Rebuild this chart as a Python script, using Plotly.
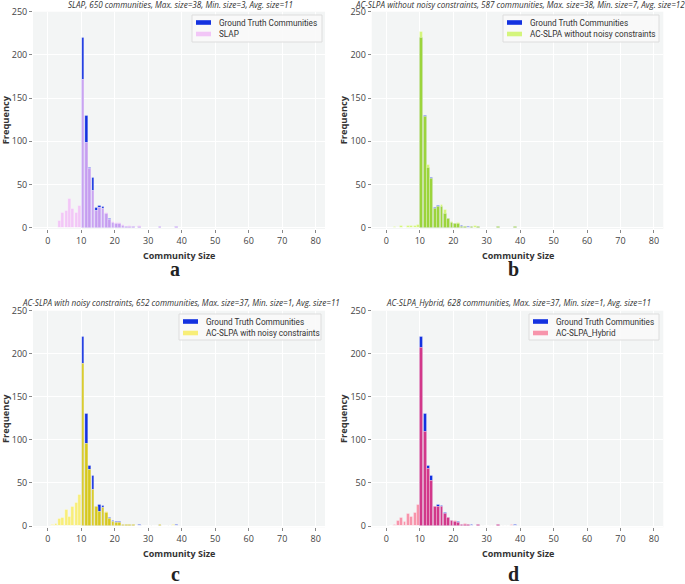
import plotly.graph_objects as go

# community sizes (bins 1..38)
sizes = list(range(1, 39))

def series(d):
    return [d.get(s, 0) for s in sizes]

ground_truth = series({10: 220, 11: 130, 12: 70, 13: 58, 14: 23, 15: 25, 16: 24, 17: 16, 18: 10,
                       19: 6, 20: 5, 21: 5, 22: 2, 23: 1, 24: 1, 25: 1, 27: 1, 33: 1, 38: 1})
slap = series({3: 8, 4: 17, 5: 20, 6: 33, 7: 22, 8: 17, 9: 25, 10: 171, 11: 98, 12: 68, 13: 43,
               14: 20, 15: 23, 16: 22, 17: 17, 18: 9, 19: 7, 20: 6, 21: 6, 22: 3, 23: 1, 24: 2,
               25: 1, 27: 2, 33: 1, 38: 1})
ac_no_noise = series({2: 1, 4: 2, 6: 2, 7: 2, 8: 2, 9: 4, 10: 227, 11: 128, 12: 73, 13: 57, 14: 22,
                      15: 24, 16: 27, 17: 21, 18: 11, 19: 7, 20: 5, 21: 6, 22: 1, 23: 1, 25: 1,
                      26: 2, 27: 1, 33: 1, 38: 1})
ac_noisy = series({1: 1, 2: 3, 3: 8, 4: 10, 5: 19, 6: 11, 7: 23, 8: 27, 9: 36, 10: 188, 11: 96,
                   12: 65, 13: 42, 14: 23, 15: 17, 16: 21, 17: 17, 18: 8, 19: 5, 20: 4, 21: 4,
                   22: 2, 23: 2, 24: 2, 25: 2, 33: 1, 37: 1})
ac_hybrid = series({2: 1, 3: 6, 4: 10, 5: 5, 6: 14, 7: 11, 8: 15, 9: 25, 10: 207, 11: 109, 12: 66,
                    13: 53, 14: 23, 15: 22, 16: 22, 17: 14, 18: 10, 19: 6, 20: 6, 21: 4, 22: 1,
                    23: 3, 24: 2, 27: 2, 33: 1, 37: 1})

panel_names = ["SLAP", "AC-SLPA without noisy constraints", "AC-SLPA with noisy constraints", "AC-SLPA_Hybrid"]
panel_values = [slap, ac_no_noise, ac_noisy, ac_hybrid]
panel_titles = [
    "SLAP, 650 communities, Max. size=38, Min. size=3, Avg. size=11",
    "AC-SLPA without noisy constraints, 587 communities, Max. size=38, Min. size=7, Avg. size=12",
    "AC-SLPA with noisy constraints, 652 communities, Max. size=37, Min. size=1, Avg. size=11",
    "AC-SLPA_Hybrid, 628 communities, Max. size=37, Min. size=1, Avg. size=11",
]
gt_label = "Ground Truth Communities"
panel_letters = ["a", "b", "c", "d"]
x_ticks = [0, 10, 20, 30, 40, 50, 60, 70, 80]
y_ticks = [0, 50, 100, 150, 200, 250]

GT_COLOR = "#1432e0"
light_colors = ["#f2c6f7", "#d4f57c", "#f8ee78", "#f794ab"]
mix_colors = ["#c59cf0", "#9bd43c", "#d6c81e", "#d2388a"]

W, H = 685, 584
# plot areas in pixels: (left, right, top, bottom)
areas = [(33, 325, 11.7, 229), (371.7, 663.3, 11.7, 229),
         (33, 325, 310.7, 527.3), (371.7, 663.3, 310.7, 527.3)]
# legend boxes in pixels: (left, right, top, bottom)
legend_boxes = [(192, 322, 15, 42), (503, 659, 15, 42), (179, 321, 314, 340), (529, 659, 314, 340)]
title_centers = [180, 519.5, 181, 518.5]

FONT = "Open Sans"
LEG_FONT = "Roboto"

def px(x):
    return x / W

def py(y):
    return 1 - y / H

fig = go.Figure()
layout = dict()
annotations = []
shapes = []

for i in range(4):
    k = "" if i == 0 else str(i + 1)
    xa, ya = "x" + k, "y" + k
    vals = panel_values[i]
    overlap = [min(a, b) for a, b in zip(vals, ground_truth)]
    bar_kw = dict(width=0.82, offset=0.09, xaxis=xa, yaxis=ya, showlegend=False,
                  marker_line_width=0.4, marker_line_color="rgba(255,255,255,0.7)")
    fig.add_trace(go.Bar(x=sizes, y=ground_truth, name=gt_label,
                         marker_color=GT_COLOR, **bar_kw))
    fig.add_trace(go.Bar(x=sizes, y=vals, name=panel_names[i],
                         marker_color=light_colors[i], **bar_kw))
    fig.add_trace(go.Bar(x=sizes, y=overlap, name=panel_names[i],
                         marker_color=mix_colors[i], **bar_kw))

    l, r, t, b = areas[i]
    axis_common = dict(showgrid=True, gridcolor="#ffffff", gridwidth=1, zeroline=False,
                       ticks="outside", ticklen=3, tickcolor="#888888",
                       tickfont=dict(family=FONT, size=9, color="#444444"), showline=False)
    layout["xaxis" + k] = dict(domain=[px(l), px(r)], range=[-4.4, 82.8], anchor=ya,
                               tickvals=x_ticks, **axis_common)
    layout["yaxis" + k] = dict(domain=[py(b), py(t)], range=[-1.5, 250], anchor=xa,
                               tickvals=y_ticks, **axis_common)

    # manual legend
    bl, br, bt, bb = legend_boxes[i]
    shapes.append(dict(type="rect", xref="paper", yref="paper", x0=px(bl), x1=px(br),
                       y0=py(bb), y1=py(bt), fillcolor="rgba(250,250,250,0.9)",
                       line=dict(color="#dddddd", width=1)))
    row1 = bt + 7.5
    row2 = bt + 19
    for ry, col, txt in [(row1, GT_COLOR, gt_label), (row2, light_colors[i], panel_names[i])]:
        shapes.append(dict(type="rect", xref="paper", yref="paper", x0=px(bl + 4), x1=px(bl + 19),
                           y0=py(ry + 2.3), y1=py(ry - 2.3), fillcolor=col, line=dict(width=0)))
        annotations.append(dict(x=px(bl + 25), y=py(ry), xref="paper", yref="paper", text=txt,
                                showarrow=False, xanchor="left", yanchor="middle",
                                font=dict(family=LEG_FONT, size=8.2, color="#333333")))

    cx = (l + r) / 2
    cy = (t + b) / 2
    title_y = 5 if i < 2 else 302.7
    annotations.append(dict(x=px(title_centers[i]), y=py(title_y), xref="paper", yref="paper",
                            text="<i>" + panel_titles[i] + "</i>", showarrow=False,
                            xanchor="center", yanchor="middle",
                            font=dict(family=FONT, size=8.15, color="#333333")))
    xt_y = 255.5 if i < 2 else 553.3
    annotations.append(dict(x=px(cx), y=py(xt_y), xref="paper", yref="paper",
                            text="<b>Community Size</b>", showarrow=False,
                            xanchor="center", yanchor="middle",
                            font=dict(family=FONT, size=9, color="#333333")))
    fx = 5 if i % 2 == 0 else 343
    annotations.append(dict(x=px(fx), y=py(cy), xref="paper", yref="paper",
                            text="<b>Frequency</b>", showarrow=False, textangle=-90,
                            xanchor="center", yanchor="middle",
                            font=dict(family=FONT, size=9.3, color="#333333")))
    lt_y = 269 if i < 2 else 573.5
    annotations.append(dict(x=px(175 if i % 2 == 0 else 513), y=py(lt_y),
                            xref="paper", yref="paper", text="<b>" + panel_letters[i] + "</b>",
                            showarrow=False, xanchor="center", yanchor="middle",
                            font=dict(family="Liberation Serif", size=20, color="#222222")))

fig.update_layout(**layout)
fig.update_layout(width=W, height=H, margin=dict(l=0, r=0, t=0, b=0, autoexpand=False),
                  paper_bgcolor="white", plot_bgcolor="#f3f5f5", barmode="overlay",
                  bargap=0, annotations=annotations, shapes=shapes, showlegend=False)

fig.write_html("out.html", config={"displayModeBar": False},
               post_script="document.body.style.margin='0';")
